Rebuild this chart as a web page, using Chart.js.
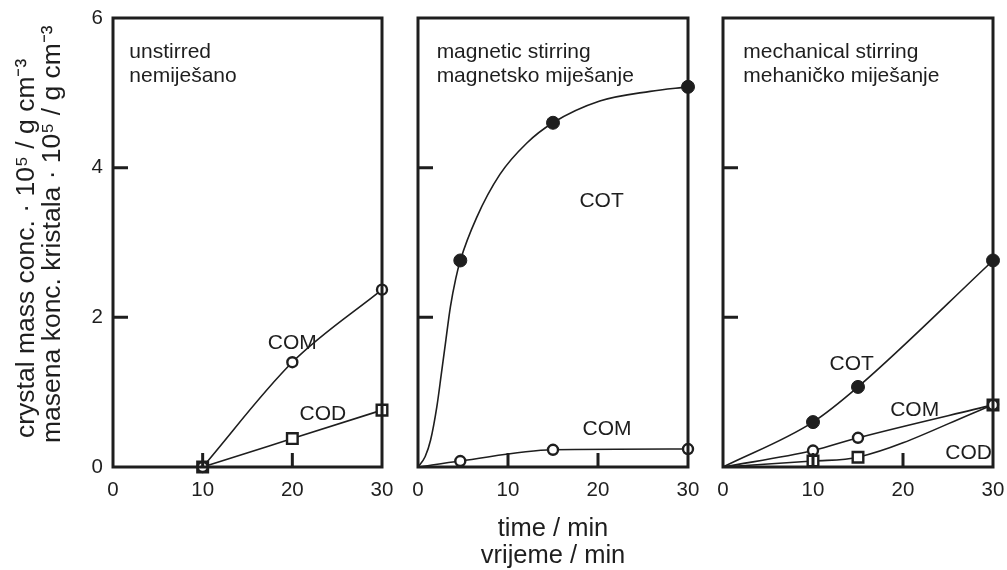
<!DOCTYPE html>
<html>
<head>
<meta charset="utf-8">
<script src="https://cdn.jsdelivr.net/npm/chart.js@4.4.1/dist/chart.umd.min.js"></script>
<style>
  html, body { margin: 0; padding: 0; background: #fff; }
  #wrap { position: relative; width: 1007px; height: 570px; }
  #wrap canvas { position: absolute; left: 0; top: 0; }
</style>
</head>
<body>
<div id="wrap">
  <canvas id="c1" width="1007" height="570"></canvas>
  <canvas id="c2" width="1007" height="570"></canvas>
  <canvas id="c3" width="1007" height="570"></canvas>
</div>
<script>
var FONT = "'Liberation Sans', Arial, Helvetica, sans-serif";
var INK = '#1e1e1e';

// unstirred
var timeA = [10, 20, 30];
var comA = [0, 1.40, 2.37];
var codA = [0, 0.38, 0.76];

// magnetic stirring
var timeB = [4.7, 15, 30];
var cotB = [2.76, 4.60, 5.08];
var comB = [0.08, 0.23, 0.24];
// COT curve as drawn in the figure
var cotLineTimeB = [0, 0.8, 1.4, 2.1, 2.6, 3.1, 3.6, 4.2, 4.7, 6.5, 9.1, 12.1, 15, 20.2, 25.8, 30];
var cotLineB = [0, 0.14, 0.36, 0.81, 1.25, 1.70, 2.14, 2.52, 2.76, 3.33, 3.91, 4.33, 4.60, 4.89, 5.02, 5.08];

// mechanical stirring
var timeC = [10, 15, 30];
var cotC = [0.60, 1.07, 2.76];
var comC = [0.22, 0.39, 0.83];
var codC = [0.08, 0.13, 0.83];

var xTicks = [0, 10, 20, 30];
var yTicks = [0, 2, 4, 6];
var innerXTicks = [10, 20];
var innerYTicks = [2, 4];

var yTitle = ['crystal mass conc. \u00b7 10\u2075 / g cm\u207b\u00b3', 'masena konc. kristala \u00b7 10\u2075 / g cm\u207b\u00b3'];
var xTitle = ['time / min', 'vrijeme / min'];

function zip(xs, ys) {
  var out = [];
  for (var i = 0; i < xs.length; i++) out.push({ x: xs[i], y: ys[i] });
  return out;
}

function curve(xs, ys) {
  return {
    data: zip(xs, ys),
    borderColor: INK,
    borderWidth: 1.6,
    pointRadius: 0,
    cubicInterpolationMode: 'monotone',
    fill: false,
    clip: false
  };
}

function marks(xs, ys, kind) {
  var d = {
    data: zip(xs, ys),
    showLine: false,
    clip: false,
    pointBorderColor: INK,
    pointBorderWidth: 2.4,
    pointBackgroundColor: '#fff',
    pointStyle: 'circle',
    pointRadius: 5
  };
  if (kind === 'dot') {
    d.pointBackgroundColor = INK;
    d.pointBorderWidth = 1;
    d.pointRadius = 6.5;
  }
  if (kind === 'square') {
    d.pointStyle = 'rect';
    d.pointRadius = 7.5;
  }
  return d;
}

function panelPlugin(notes, withYTitle) {
  return {
    id: 'panel',
    afterDatasetsDraw: function (chart) {
      var ctx = chart.ctx, a = chart.chartArea;
      var xs = chart.scales.x, ys = chart.scales.y;
      ctx.save();
      ctx.strokeStyle = INK;
      ctx.lineWidth = 3;
      ctx.beginPath();
      innerXTicks.forEach(function (v) {
        var px = xs.getPixelForValue(v);
        ctx.moveTo(px, a.bottom);
        ctx.lineTo(px, a.bottom - 14);
      });
      innerYTicks.forEach(function (v) {
        var py = ys.getPixelForValue(v);
        ctx.moveTo(a.left, py);
        ctx.lineTo(a.left + 15, py);
      });
      ctx.stroke();
      ctx.strokeRect(a.left, a.top, a.right - a.left, a.bottom - a.top);

      ctx.fillStyle = INK;
      notes.forEach(function (n) {
        ctx.font = n.size + 'px ' + FONT;
        ctx.textAlign = n.align;
        ctx.textBaseline = n.base;
        ctx.fillText(n.text, xs.getPixelForValue(n.x), ys.getPixelForValue(n.y));
      });

      if (withYTitle) {
        // two rotated lines, both starting just above the bottom of the frame
        ctx.translate(27, a.bottom - 29);
        ctx.rotate(-Math.PI / 2);
        ctx.font = '26.5px ' + FONT;
        ctx.textAlign = 'left';
        ctx.textBaseline = 'middle';
        yTitle.forEach(function (t, i) { ctx.fillText(t, i === 0 ? 0 : -5, i * 26); });
      }
      ctx.restore();
    }
  };
}

function header(l1, l2, x) {
  return [
    { text: l1, x: x, y: 5.464, align: 'left', base: 'alphabetic', size: 21 },
    { text: l2, x: x, y: 5.151, align: 'left', base: 'alphabetic', size: 21 }
  ];
}

function label(text, x, y) {
  return { text: text, x: x, y: y, align: 'center', base: 'middle', size: 21 };
}

function makePanel(id, left, right, datasets, notes, opt) {
  var yWidth = opt.yLabels ? left : 0;
  new Chart(document.getElementById(id), {
    type: 'line',
    data: { datasets: datasets },
    options: {
      responsive: false,
      animation: false,
      events: [],
      layout: { padding: { left: left - yWidth, right: 1007 - right, top: 18, bottom: 0 } },
      plugins: { legend: { display: false }, tooltip: { enabled: false } },
      scales: {
        x: {
          type: 'linear',
          min: 0,
          max: 30,
          grid: { display: false, drawTicks: false },
          border: { display: false },
          afterBuildTicks: function (s) { s.ticks = xTicks.map(function (v) { return { value: v }; }); },
          afterFit: function (s) { s.height = 570 - 467; s.paddingLeft = 0; s.paddingRight = 0; },
          ticks: { color: INK, font: { family: FONT, size: 20.5, lineHeight: 1 }, padding: 13, maxRotation: 0, autoSkip: false },
          title: opt.xTitle ? {
            display: true,
            text: xTitle,
            color: INK,
            font: { family: FONT, size: 25.5, lineHeight: '27px' },
            padding: { top: 0, bottom: 1 }
          } : { display: false }
        },
        y: {
          type: 'linear',
          min: 0,
          max: 6,
          grid: { display: false, drawTicks: false },
          border: { display: false },
          afterBuildTicks: function (s) { s.ticks = yTicks.map(function (v) { return { value: v }; }); },
          afterFit: function (s) { s.width = yWidth; s.paddingTop = 0; s.paddingBottom = 0; },
          ticks: { display: !!opt.yLabels, color: INK, font: { family: FONT, size: 20.5, lineHeight: 1 }, padding: 10 }
        }
      }
    },
    plugins: [panelPlugin(notes, !!opt.yLabels)]
  });
}

makePanel('c1', 113, 382, [
  marks(timeA, comA, 'circle'),
  marks(timeA, codA, 'square'),
  curve(timeA, comA),
  curve(timeA, codA)
], header('unstirred', 'nemiješano', 1.82).concat([
  label('COM', 20.0, 1.66),
  label('COD', 23.4, 0.70)
]), { yLabels: true });

makePanel('c2', 418, 688, [
  marks(timeB, cotB, 'dot'),
  marks(timeB, comB, 'circle'),
  curve(cotLineTimeB, cotLineB),
  curve([0].concat(timeB), [0].concat(comB))
], header('magnetic stirring', 'magnetsko miješanje', 2.07).concat([
  label('COT', 20.4, 3.55),
  label('COM', 21.0, 0.51)
]), { xTitle: true });

makePanel('c3', 723, 993, [
  marks(timeC, cotC, 'dot'),
  marks(timeC, comC, 'circle'),
  marks(timeC, codC, 'square'),
  curve([0].concat(timeC), [0].concat(cotC)),
  curve([0].concat(timeC), [0].concat(comC)),
  curve([0].concat(timeC), [0].concat(codC))
], header('mechanical stirring', 'mehaničko miješanje', 2.26).concat([
  label('COT', 14.3, 1.37),
  label('COM', 21.3, 0.76),
  label('COD', 27.3, 0.18)
]), {});
</script>
</body>
</html>
